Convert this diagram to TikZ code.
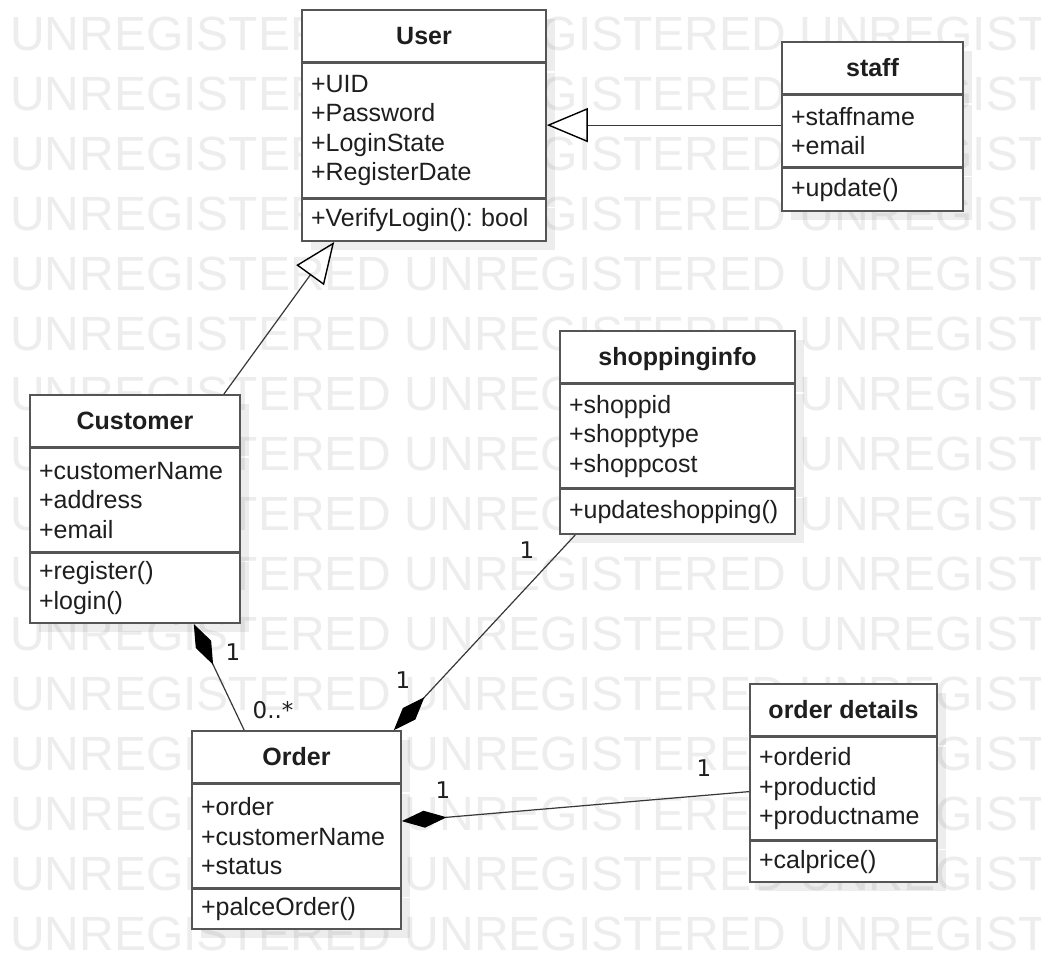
\documentclass[tikz,border=0pt]{standalone}
\usepackage{fontspec}
\setmainfont{Liberation Sans}
\newfontfamily\multfont{DejaVu Sans}
\usetikzlibrary{positioning,arrows.meta,shadows}
\frenchspacing
\definecolor{boxGray}{RGB}{85,85,85}
\definecolor{inkGray}{RGB}{30,30,30}
\definecolor{edgeGray}{RGB}{55,55,55}
\definecolor{markGray}{RGB}{237,237,237}
\tikzstyle{classTitle}=[draw = boxGray, line width = 1.6pt, fill = white, text = inkGray, inner sep = 0pt, minimum height = 52pt, text height = 20pt, text depth = 3pt, font = \bfseries\fontsize{25}{30}\selectfont, drop shadow = {shadow xshift = 9pt, shadow yshift = -9pt, fill = black, opacity = 0.07}]
\tikzstyle{classPart}=[draw = boxGray, line width = 1.6pt, fill = white, text = inkGray, inner xsep = 9pt, inner ysep = 0pt, align = left, font = \fontsize{25}{29.5}\selectfont, drop shadow = {shadow xshift = 9pt, shadow yshift = -9pt, fill = black, opacity = 0.07}]

\begin{document}
\begin{tikzpicture}[x = 1pt, y = -1pt]
\tikzstyle{watermark}=[anchor = west, inner sep = 0pt, text = markGray, font = \fontsize{48}{48}\selectfont]
\tikzstyle{genEdge}=[draw = edgeGray, line width = 1.2pt, -{Triangle[open, length = 41pt, width = 34pt, line width = 1.4pt, color = black]}]
\tikzstyle{compEdge}=[draw = edgeGray, line width = 1.2pt, {Diamond[length = 45pt, width = 17pt, color = black]}-]
\tikzstyle{multLabel}=[inner sep = 0pt, text = inkGray, font = \multfont\fontsize{23}{23}\selectfont]
\fill[white] (0,0) rectangle (1041,956);
\useasboundingbox (0,0) rectangle (1041,956);
\foreach \r in {0,...,15}
  \node[watermark] (mark\r) at (10, 33.5 + 60*\r) {UNREGISTERED UNREGISTERED UNREGISTERED};
\node[classTitle, minimum width = 244pt] (userTitle) at (424, 36) {User};
\node[classPart, text width = 226pt, minimum height = 134pt, below = 0pt of userTitle] (userAttr) {+UID\\+Password\\+LoginState\\+RegisterDate};
\node[classPart, text width = 226pt, minimum height = 42pt, below = 0pt of userAttr] (userOps) {+VerifyLogin(): bool};
\node[classTitle, minimum width = 181pt] (staffTitle) at (872.5, 68) {staff};
\node[classPart, text width = 163pt, minimum height = 71pt, below = 0pt of staffTitle] (staffAttr) {+staffname\\+email};
\node[classPart, text width = 163pt, minimum height = 43pt, below = 0pt of staffAttr] (staffOps) {+update()};
\node[classTitle, minimum width = 235pt] (shopTitle) at (677.5, 357) {shoppinginfo};
\node[classPart, text width = 217pt, minimum height = 103pt, below = 0pt of shopTitle] (shopAttr) {+shoppid\\+shopptype\\+shoppcost};
\node[classPart, text width = 217pt, minimum height = 45pt, below = 0pt of shopAttr] (shopOps) {+updateshopping()};
\node[classTitle, minimum width = 210pt] (custTitle) at (135, 421) {Customer};
\node[classPart, text width = 192pt, minimum height = 103pt, below = 0pt of custTitle] (custAttr) {+customerName\\+address\\+email};
\node[classPart, text width = 192pt, minimum height = 70pt, below = 0pt of custAttr] (custOps) {+register()\\+login()};
\node[classTitle, minimum width = 209pt] (orderTitle) at (296.5, 757) {Order};
\node[classPart, text width = 191pt, minimum height = 103pt, below = 0pt of orderTitle] (orderAttr) {+order\\+customerName\\+status};
\node[classPart, text width = 191pt, minimum height = 40pt, below = 0pt of orderAttr] (orderOps) {+palceOrder()};
\node[classTitle, minimum width = 187pt] (detailTitle) at (843.5, 710) {order details};
\node[classPart, text width = 169pt, minimum height = 102pt, below = 0pt of detailTitle] (detailAttr) {+orderid\\+productid\\+productname};
\node[classPart, text width = 169pt, minimum height = 41pt, below = 0pt of detailAttr] (detailOps) {+calprice()};
\coordinate (staffEnd) at ([yshift = 6pt]staffAttr.west);
\draw[genEdge] (staffEnd) -- (staffEnd -| userAttr.east);
\draw[genEdge] ([xshift = -17pt]custTitle.north east) -- ([xshift = 33pt]userOps.south west);
\draw[compEdge] ([xshift = -47pt]custOps.south east) -- ([xshift = 53pt]orderTitle.north west);
\draw[compEdge] ([xshift = -8pt]orderTitle.north east) -- ([xshift = 16pt]shopOps.south west);
\draw[compEdge] ([yshift = 15pt]orderAttr.east) -- ([yshift = -3pt]detailAttr.west);
\node[multLabel] (custOne) at (233, 652) {1};
\node[multLabel] (orderMany) at (273, 710) {0..*};
\node[multLabel] (orderShopOne) at (403, 680) {1};
\node[multLabel] (shopOne) at (527, 550) {1};
\node[multLabel] (orderDetailOne) at (443, 790) {1};
\node[multLabel] (detailOne) at (704, 768) {1};
\end{tikzpicture}
\end{document}
